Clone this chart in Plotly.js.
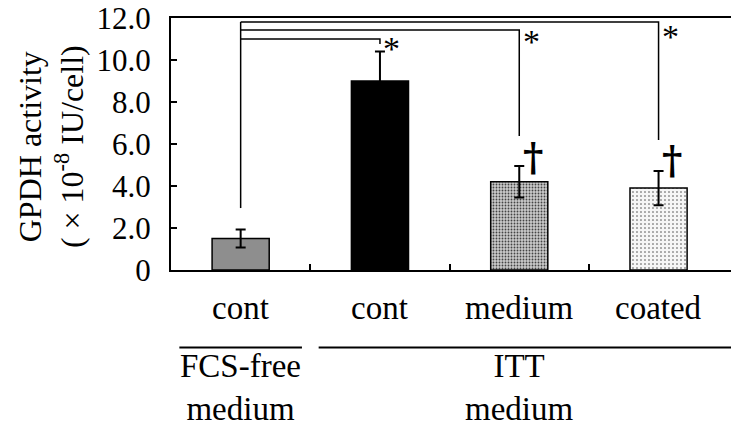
<!DOCTYPE html>
<html>
<head>
<meta charset="utf-8">
<script src="https://cdn.plot.ly/plotly-3.0.1.min.js"></script>
<style>
  html, body { margin: 0; padding: 0; background: #fff; }
  #chart { width: 731px; height: 428px; }
</style>
</head>
<body>
<div id="chart"></div>
<script>
// GPDH activity per treatment group (x 10^-8 IU/cell), mean and SD
const categories = ["cont", "cont", "medium", "coated"];
const values = [1.5, 9.0, 4.2, 3.9];
const errors = [0.43, 1.4, 0.75, 0.82];
const barColors = ["#8e8e8e", "#000000", "#cacaca", "#f6f6f6"];

// y-axis ticks
const yTickVals = [0, 2, 4, 6, 8, 10, 12];
const yTickText = ["0", "2.0", "4.0", "6.0", "8.0", "10.0", "12.0"];

// group captions under the category labels
const groupLabels = ["FCS-free<br>medium", "ITT<br>medium"];
const groupCenters = [0, 2];
const groupSpans = [[-0.44, 0.44], [0.56, 3.6]];

// significance brackets from the FCS-free control to each ITT bar
const bracketTargets = [1, 2, 3];
const bracketLevels = [11.0, 11.43, 11.81];
const bracketDrops = [10.76, 6.38, 6.19];
const bracketStart = 2.95;
const starMarks = ["*", "*", "*"];
const starShifts = [11, 9, 6];

// dagger marks over the medium and coated bars
const daggerBars = [2, 3];
const daggerHeights = [5.4, 5.25];

const xs = categories.map((_, i) => i);
const FONT = "Liberation Serif, Times New Roman, serif";

const bars = {
  type: "bar",
  x: xs,
  y: values,
  width: 0.41,
  marker: {
    color: barColors,
    line: { color: "#000", width: 1.5 },
    pattern: {
      shape: ["", "", ".", "."],
      fillmode: "overlay",
      fgcolor: ["#8e8e8e", "#000", "#f0f0f0", "#d2d2d2"],
      fgopacity: 1,
      size: [4, 4, 3, 4],
      solidity: [0.3, 0.3, 0.3, 0.12]
    }
  },
  error_y: {
    type: "data",
    array: errors,
    visible: true,
    color: "#000",
    thickness: 2,
    width: 5
  },
  hoverinfo: "skip",
  showlegend: false
};

const shapes = [];
const annotations = [];

// brackets
shapes.push({
  type: "line", xref: "x", yref: "y",
  x0: 0, x1: 0, y0: bracketStart, y1: Math.max(...bracketLevels),
  line: { color: "#000", width: 1.5 }
});
bracketTargets.forEach((t, k) => {
  shapes.push({
    type: "path", xref: "x", yref: "y",
    path: `M 0,${bracketLevels[k]} L ${t},${bracketLevels[k]} L ${t},${bracketDrops[k]}`,
    line: { color: "#000", width: 1.5 }
  });
  annotations.push({
    xref: "x", yref: "y",
    x: t + 0.01, y: bracketLevels[k],
    yshift: starShifts[k],
    xanchor: "left", yanchor: "top",
    text: starMarks[k], showarrow: false,
    font: { family: FONT, size: 34, color: "#000" }
  });
});

// daggers
daggerBars.forEach((b, k) => {
  annotations.push({
    xref: "x", yref: "y",
    x: b + 0.1, y: daggerHeights[k],
    xanchor: "center", yanchor: "middle",
    text: "<b>†</b>", showarrow: false,
    font: { family: "DejaVu Serif", size: 39, color: "#000" }
  });
});

// category labels
categories.forEach((c, i) => {
  annotations.push({
    xref: "x", yref: "paper",
    x: i, y: -0.15,
    xanchor: "center", yanchor: "middle",
    text: c, showarrow: false,
    font: { family: FONT, size: 33, color: "#000" }
  });
});

// group lines and captions
groupSpans.forEach((s, k) => {
  shapes.push({
    type: "line", xref: "x", yref: "paper",
    x0: s[0], x1: s[1], y0: -0.308, y1: -0.308,
    line: { color: "#000", width: 2 }
  });
  annotations.push({
    xref: "x", yref: "paper",
    x: groupCenters[k], y: -0.468,
    xanchor: "center", yanchor: "middle",
    text: groupLabels[k], showarrow: false,
    font: { family: FONT, size: 33, color: "#000" }
  });
});

// y-axis title
annotations.push({
  xref: "paper", yref: "paper",
  x: -0.215, y: 0.49,
  xanchor: "center", yanchor: "middle",
  textangle: -90,
  text: "GPDH activity<br>( × 10<sup>-8</sup> IU/cell)",
  showarrow: false,
  font: { family: FONT, size: 32, color: "#000" }
});

const layout = {
  width: 731,
  height: 428,
  margin: { l: 171, r: 0, t: 18, b: 158, pad: 0 },
  paper_bgcolor: "#fff",
  plot_bgcolor: "#fff",
  font: { family: FONT, color: "#000" },
  showlegend: false,
  xaxis: {
    range: [-0.5, 3.52],
    showgrid: false,
    zeroline: false,
    showline: true,
    mirror: true,
    linecolor: "#000",
    linewidth: 2,
    tickvals: xs,
    showticklabels: false,
    ticks: "",
    minor: {
      tickvals: [0.5, 1.5, 2.5],
      ticks: "inside",
      ticklen: 6,
      tickwidth: 2,
      tickcolor: "#000",
      showgrid: false
    }
  },
  yaxis: {
    range: [0, 12],
    showgrid: false,
    zeroline: false,
    showline: true,
    linecolor: "#000",
    linewidth: 2,
    tickvals: yTickVals,
    ticktext: yTickText,
    ticks: "inside",
    ticklen: 6,
    tickwidth: 2,
    tickcolor: "#000",
    ticklabelstandoff: 12,
    tickfont: { family: FONT, size: 31, color: "#000" }
  },
  shapes: shapes,
  annotations: annotations,
  bargap: 0
};

Plotly.newPlot("chart", [bars], layout, { staticPlot: true, displayModeBar: false });
</script>
</body>
</html>
